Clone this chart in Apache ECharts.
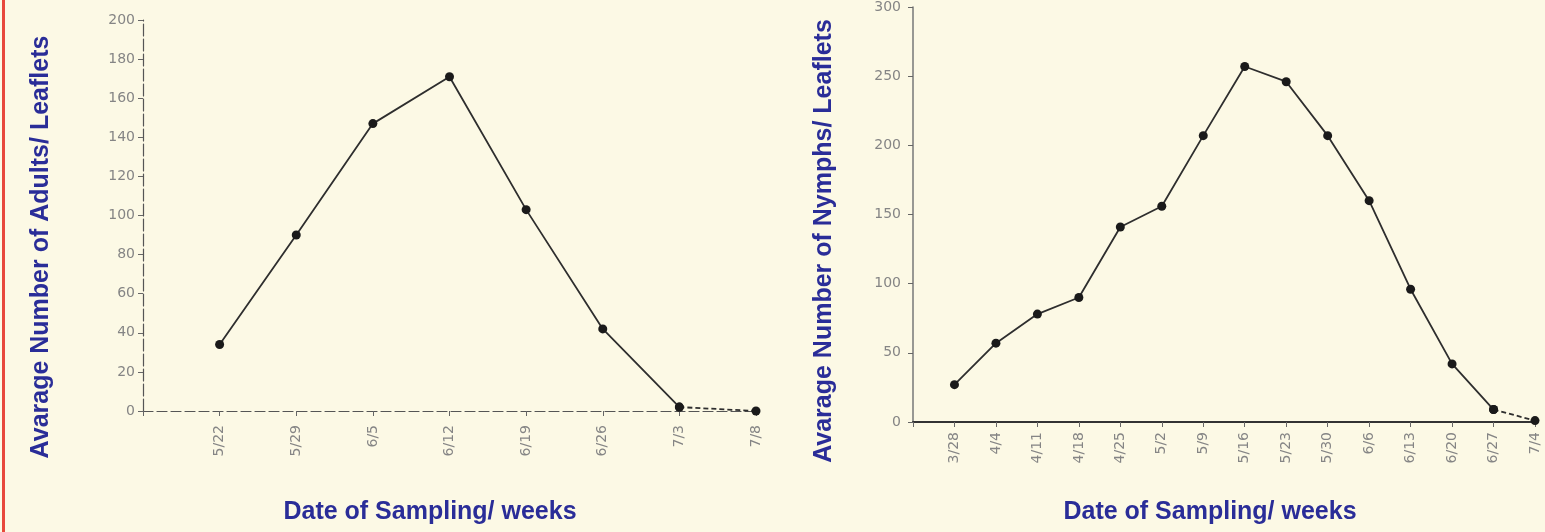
<!DOCTYPE html>
<html>
<head>
<meta charset="utf-8">
<script src="https://cdn.jsdelivr.net/npm/echarts@6/dist/echarts.min.js"></script>
<style>
html,body{margin:0;padding:0;background:#fcf9e5;}
#chart{width:1545px;height:532px;}
</style>
</head>
<body>
<div id="chart"></div>
<script>
// ---- data ----
const adultDates = ['5/22','5/29','6/5','6/12','6/19','6/26','7/3','7/8'];
const adultValues = [34, 90, 147, 171, 103, 42, 2, 0];
const nymphDates = ['3/28','4/4','4/11','4/18','4/25','5/2','5/9','5/16','5/23','5/30','6/6','6/13','6/20','6/27','7/4'];
const nymphValues = [27, 57, 78, 90, 141, 156, 207, 257, 246, 207, 160, 96, 42, 9, 1];
const adultTitle = 'Avarage Number of Adults/ Leaflets';
const nymphTitle = 'Avarage Number of Nymphs/ Leaflets';
const xTitle = 'Date of Sampling/ weeks';

function pts(vals) { return vals.map((v, i) => [i + 1, v]); }
function solidPart(vals) { return pts(vals).slice(0, vals.length - 1); }
function dashPart(vals) { return pts(vals).slice(vals.length - 2); }

const titleColor = '#2a2d98';
const labelColor = '#858585';
const lineColor = '#2e2e2e';

const chart = echarts.init(document.getElementById('chart'));

function xAxis(gridIndex, dates, lineStyle, margin) {
  return {
    type: 'value', gridIndex: gridIndex, min: 0, max: dates.length, interval: 1,
    splitLine: { show: false },
    axisLine: { show: true, lineStyle: lineStyle },
    axisTick: { show: true, inside: false, length: 5, lineStyle: { color: '#666' } },
    axisLabel: {
      rotate: 90, margin: margin, color: labelColor, fontSize: 14,
      fontFamily: 'DejaVu Sans',
      formatter: v => dates[v - 1] || ''
    }
  };
}
function yAxis(gridIndex, max, interval, lineStyle, margin) {
  return {
    type: 'value', gridIndex: gridIndex, min: 0, max: max, interval: interval,
    splitLine: { show: false },
    axisLine: { show: true, lineStyle: lineStyle },
    axisTick: { show: true, inside: false, length: 5, lineStyle: { color: '#666' } },
    axisLabel: { margin: margin, color: labelColor, fontSize: 14, fontFamily: 'DejaVu Sans' }
  };
}
function series(idx, data, dashed) {
  return {
    type: 'line', xAxisIndex: idx, yAxisIndex: idx, data: data,
    symbol: 'circle', symbolSize: 9, showSymbol: true,
    itemStyle: { color: '#1a1a1a' },
    lineStyle: { color: lineColor, width: 1.8, type: dashed ? [5, 3] : 'solid' },
    animation: false, silent: true
  };
}
function titleText(x, y, text, vertical) {
  return {
    type: 'text', x: x, y: y, rotation: vertical ? Math.PI / 2 : 0,
    style: {
      text: text, fill: titleColor, font: 'bold 25px "Liberation Sans", Arial, sans-serif',
      textAlign: 'center', textVerticalAlign: 'middle'
    },
    silent: true
  };
}

chart.setOption({
  backgroundColor: '#fcf9e5',
  animation: false,
  grid: [
    { left: 143, top: 20, width: 613, height: 391 },
    { left: 913, top: 4, width: 622, height: 418 }
  ],
  xAxis: [
    xAxis(0, adultDates, { color: '#555', width: 1.2, type: [10, 4] }, 14),
    xAxis(1, nymphDates, { color: '#333', width: 2 }, 10)
  ],
  yAxis: [
    yAxis(0, 200, 20, { color: '#555', width: 1.2, type: [12, 3] }, 8),
    yAxis(1, 300, 50, { color: '#777', width: 1.5 }, 12)
  ],
  series: [
    series(0, solidPart(adultValues), false),
    series(0, dashPart(adultValues), true),
    series(1, solidPart(nymphValues), false),
    series(1, dashPart(nymphValues), true)
  ],
  graphic: [
    { type: 'rect', shape: { x: 2, y: 0, width: 3, height: 532 }, style: { fill: '#e8493c' }, silent: true },
    titleText(41, 247, adultTitle, true),
    titleText(824, 241, nymphTitle, true),
    titleText(430, 512, xTitle, false),
    titleText(1210, 512, xTitle, false)
  ]
});
</script>
</body>
</html>
